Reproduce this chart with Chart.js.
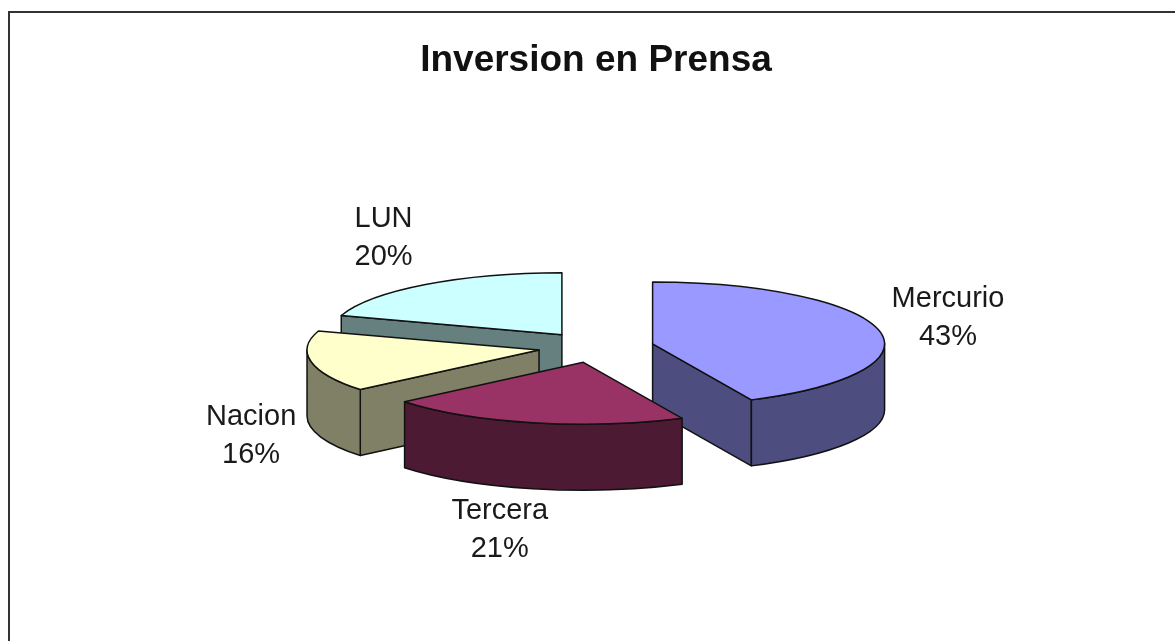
<!DOCTYPE html>
<html>
<head>
<meta charset="utf-8">
<script src="https://cdn.jsdelivr.net/npm/chart.js@4/dist/chart.umd.js"></script>
<style>
html, body { margin: 0; background: #fff; overflow: hidden; }
#wrap { position: relative; width: 1175px; height: 641px; }
#pie { filter: blur(0.5px); }
</style>
</head>
<body>
<div id="wrap"><canvas id="pie" width="1175" height="641"></canvas></div>
<script>
let categories = ["Mercurio", "Tercera", "Nacion", "LUN"];
let shares = [43, 21, 16, 20];
let top_colors = ["#9999ff", "#993366", "#ffffcc", "#ccffff"];
let side_colors = ["#4d4d80", "#4d1a33", "#808066", "#668080"];

// Chart.js has no 3D pie, so tilt the arcs and add the walls ourselves
let pie3d = {
    id: "pie3d",
    beforeDatasetsDraw(chart, args, opts) {
        let ctx = chart.ctx;
        let arcs = chart.getDatasetMeta(0).data;

        // frame
        ctx.save();
        ctx.strokeStyle = "#333";
        ctx.lineWidth = 2;
        ctx.strokeRect(9, 12, 1200, 700);
        ctx.restore();

        // back to front, Tercera sits in front of Mercurio's cut face
        [3, 2, 0, 1].forEach(function (i) {
            draw_slice(ctx, arcs[i], side_colors[i], opts);
        });

        ctx.save();
        ctx.font = opts.labelFont;
        ctx.fillStyle = "#1a1a1a";
        ctx.textAlign = "center";
        ctx.textBaseline = "middle";
        arcs.forEach(function (arc, i) {
            let mid = (arc.startAngle + arc.endAngle) / 2;
            let o = slice_origin(arc, opts);
            let x = o.x + arc.outerRadius * Math.cos(mid) + opts.labelOffsets[i][0];
            let y = o.y + arc.outerRadius * opts.tilt * Math.sin(mid) + opts.labelOffsets[i][1];
            ctx.fillText(categories[i], x, y - 19);
            ctx.fillText(shares[i] + "%", x, y + 19);
        });
        ctx.restore();

        return false;
    }
};

function slice_origin(arc, opts) {
    let mid = (arc.startAngle + arc.endAngle) / 2;
    return {
        x: arc.x + opts.explode * Math.cos(mid),
        y: arc.y + opts.explode * opts.tilt * Math.sin(mid)
    };
}

function draw_slice(ctx, arc, side_color, opts) {
    let o = slice_origin(arc, opts);
    let r = arc.outerRadius;
    let ry = r * opts.tilt;
    let d = opts.depth;
    let a = arc.startAngle, b = arc.endAngle;

    ctx.save();
    ctx.lineWidth = 1.5;
    ctx.lineJoin = "round";
    ctx.strokeStyle = "#111";
    ctx.fillStyle = side_color;

    let px = t => o.x + r * Math.cos(t);
    let py = t => o.y + ry * Math.sin(t);

    // cut faces, only the ones turned towards the viewer
    [[a, Math.cos(a) < -1e-6], [b, Math.cos(b) > 1e-6]].forEach(function (face) {
        if (!face[1]) return;
        let t = face[0];
        ctx.beginPath();
        ctx.moveTo(o.x, o.y);
        ctx.lineTo(px(t), py(t));
        ctx.lineTo(px(t), py(t) + d);
        ctx.lineTo(o.x, o.y + d);
        ctx.closePath();
        ctx.fill();
        ctx.stroke();
    });

    // rim, front half of the ellipse only
    let from = Math.max(a, 0), to = Math.min(b, Math.PI);
    if (to > from) {
        ctx.beginPath();
        ctx.ellipse(o.x, o.y, r, ry, 0, from, to);
        ctx.lineTo(px(to), py(to) + d);
        ctx.ellipse(o.x, o.y + d, r, ry, 0, to, from, true);
        ctx.closePath();
        ctx.fill();
        ctx.stroke();
    }

    // top face is the library's own arc, squashed
    ctx.save();
    ctx.translate(o.x, o.y);
    ctx.scale(1, opts.tilt);
    ctx.translate(-arc.x, -arc.y);
    arc.draw(ctx);
    ctx.restore();

    ctx.beginPath();
    ctx.moveTo(o.x, o.y);
    ctx.lineTo(px(a), py(a));
    ctx.ellipse(o.x, o.y, r, ry, 0, a, b);
    ctx.closePath();
    ctx.stroke();
    ctx.restore();
}

let pchart = new Chart(document.getElementById("pie").getContext("2d"), {
    type: "pie",
    plugins: [pie3d],
    data: {
        labels: categories,
        datasets: [{
            data: shares,
            backgroundColor: top_colors,
            borderWidth: 0,
            radius: 232
        }]
    },
    options: {
        responsive: false,
        animation: false,
        events: [],
        layout: { padding: { left: 17, right: 0, top: 0, bottom: 30 } },
        plugins: {
            legend: { display: false },
            tooltip: { enabled: false },
            title: {
                display: true,
                text: "Inversion en Prensa",
                color: "#111",
                font: { family: "Liberation Sans", size: 37, weight: "bold" },
                padding: { top: 39, bottom: 0 }
            },
            pie3d: {
                tilt: 0.267,
                explode: 58,
                depth: 66,
                labelFont: "29px 'Liberation Sans'",
                labelOffsets: [[69, -12], [-33, 107], [-60, 74], [-42, -47]]
            }
        }
    }
});
</script>
</body>
</html>
